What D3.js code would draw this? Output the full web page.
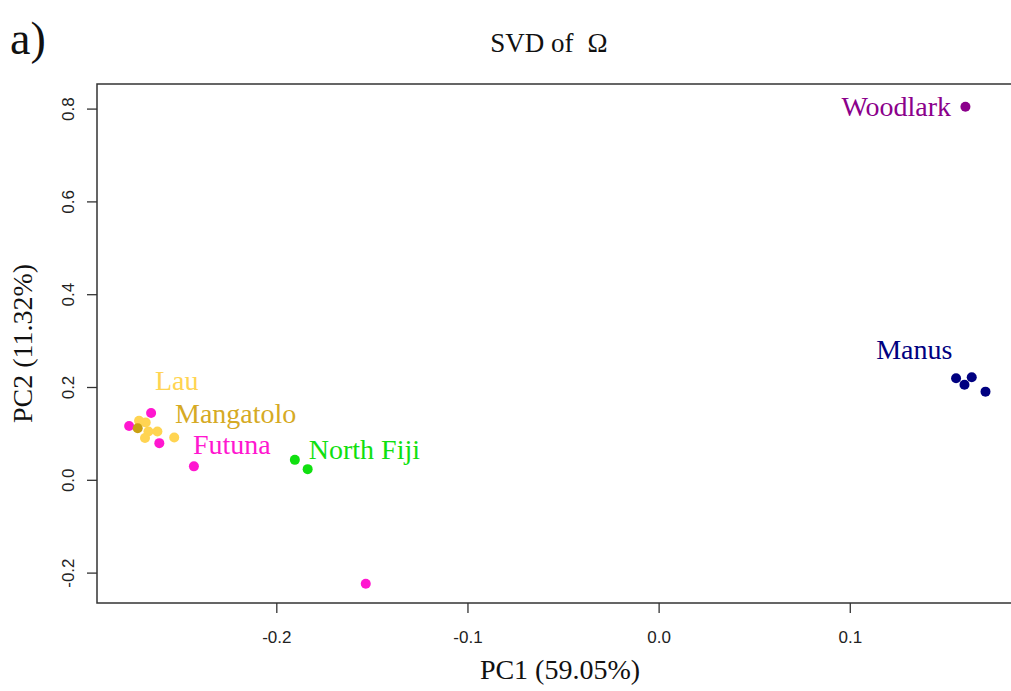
<!DOCTYPE html>
<html>
<head>
<meta charset="utf-8">
<title>SVD of Omega</title>
<script src="https://cdn.jsdelivr.net/npm/d3@7"></script>
<style>
  body { margin: 0; background: #fff; }
  .serif { font-family: "Liberation Serif", "Times New Roman", serif; }
  .tick text { font-family: "Liberation Sans", Arial, sans-serif; font-size: 17px; fill: #222; }
  .tick line { stroke: #333; stroke-width: 1.3; }
</style>
</head>
<body>
<svg id="svg"></svg>
<script>
// points
var pointGroup = ["Woodlark",
  "Manus", "Manus", "Manus", "Manus",
  "North Fiji", "North Fiji",
  "Lau", "Lau", "Lau", "Lau", "Lau", "Lau",
  "Futuna", "Futuna", "Futuna", "Futuna", "Futuna",
  "Mangatolo"];
var pc1 = [0.1605,
  0.1556, 0.1600, 0.1638, 0.1710,
  -0.1903, -0.1836,
  -0.2718, -0.2683, -0.2669, -0.2622, -0.2687, -0.2534,
  -0.2770, -0.2655, -0.2612, -0.2431, -0.1532,
  -0.2725];
var pc2 = [0.804,
  0.219, 0.205, 0.221, 0.190,
  0.043, 0.023,
  0.127, 0.1235, 0.104, 0.104, 0.090, 0.091,
  0.116, 0.144, 0.079, 0.029, -0.224,
  0.111];

// group labels, in data units
var labelText = ["Woodlark", "Manus", "Lau", "Mangatolo", "Futuna", "North Fiji"];
var labelX = [0.1530, 0.1138, -0.2635, -0.2530, -0.2436, -0.1830];
var labelY = [0.783, 0.260, 0.194, 0.123, 0.056, 0.045];

var xTicks = [-0.2, -0.1, 0.0, 0.1];
var yTicks = [-0.2, 0.0, 0.2, 0.4, 0.6, 0.8];

var dotColor = {
  "Woodlark": "#8b008b", "Manus": "#000080", "North Fiji": "#10e010",
  "Futuna": "#ff17d0", "Lau": "#ffd452", "Mangatolo": "#c9a012"
};
var textColor = {
  "Woodlark": "#8b008b", "Manus": "#000080", "North Fiji": "#10e010",
  "Futuna": "#ff17d0", "Lau": "#ffd452", "Mangatolo": "#d6aa24"
};

var width = 1011, height = 691,
    box = {left: 97, right: 1018, top: 84, bottom: 603};

var svg = d3.select("#svg").attr("width", width).attr("height", height);

var x = d3.scaleLinear().domain([-0.2938, 0.1880]).range([box.left, box.right]);
var y = d3.scaleLinear().domain([-0.2655, 0.853]).range([box.bottom, box.top]);

var fmt = function(d) { return d.toFixed(1); };

// x axis
var gx = svg.append("g")
    .attr("transform", "translate(0," + box.bottom + ")")
    .call(d3.axisBottom(x).tickValues(xTicks).tickSize(10).tickFormat(fmt));
gx.select(".domain").remove();
gx.selectAll(".tick text").attr("y", 40).attr("dy", 0);

// y axis, labels turned like R does
var gy = svg.append("g")
    .attr("transform", "translate(" + box.left + ",0)")
    .call(d3.axisLeft(y).tickValues(yTicks).tickSize(10).tickFormat(fmt));
gy.select(".domain").remove();
gy.selectAll(".tick text")
    .attr("x", 0).attr("y", -23).attr("dy", 0)
    .attr("text-anchor", "middle")
    .attr("transform", "rotate(-90)");

// frame
svg.append("rect")
    .attr("x", box.left).attr("y", box.top)
    .attr("width", box.right - box.left).attr("height", box.bottom - box.top)
    .attr("fill", "none").attr("stroke", "#333").attr("stroke-width", 1.5);

// points
svg.append("g").selectAll("circle")
  .data(pointGroup)
  .enter().append("circle")
    .attr("cx", function(d, i) { return x(pc1[i]); })
    .attr("cy", function(d, i) { return y(pc2[i]); })
    .attr("r", 5)
    .attr("fill", function(d) { return dotColor[d]; });

// labels
svg.append("g").selectAll("text")
  .data(labelText)
  .enter().append("text")
    .attr("class", "serif")
    .attr("x", function(d, i) { return x(labelX[i]); })
    .attr("y", function(d, i) { return y(labelY[i]); })
    .attr("text-anchor", function(d) { return d == "Woodlark" ? "end" : "start"; })
    .style("font-size", "28px")
    .attr("fill", function(d) { return textColor[d]; })
    .text(function(d) { return d; });

// titles
var title = svg.append("text")
    .attr("class", "serif")
    .attr("x", 549).attr("y", 52)
    .attr("text-anchor", "middle")
    .style("font-size", "27px")
    .attr("fill", "#111");
title.append("tspan").text("SVD of");
title.append("tspan").attr("dx", 14).text("\u03A9");

svg.append("text")
    .attr("class", "serif")
    .attr("x", 10).attr("y", 54)
    .style("font-size", "46px")
    .attr("fill", "#111")
    .text("a)");

svg.append("text")
    .attr("class", "serif")
    .attr("x", 560).attr("y", 679)
    .attr("text-anchor", "middle")
    .style("font-size", "28px")
    .attr("fill", "#111")
    .text("PC1 (59.05%)");

svg.append("text")
    .attr("class", "serif")
    .attr("transform", "translate(32," + ((box.top + box.bottom) / 2) + ")rotate(-90)")
    .attr("text-anchor", "middle")
    .style("font-size", "28px")
    .attr("fill", "#111")
    .text("PC2 (11.32%)");
</script>
</body>
</html>
